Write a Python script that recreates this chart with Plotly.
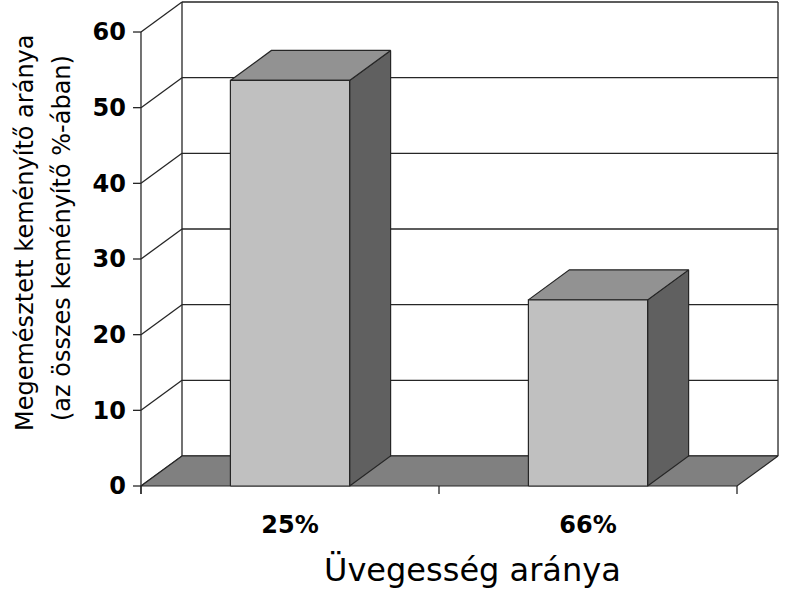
import plotly.graph_objects as go

# ---- data ----
categories = ["25%", "66%"]
values = [53.6, 24.6]
y_ticks = [0, 10, 20, 30, 40, 50, 60]
x_title = "Üvegesség aránya"
y_title_lines = ["Megemésztett keményítő aránya", "(az összes keményítő %-ában)"]

# ---- oblique 3D projection (axis units) ----
DEPTH_X = 0.1376      # horizontal shift of the back plane, in category units
DEPTH_Y = 3.965       # vertical shift of the back plane, in value units
BAR_W = 0.4           # bar width (gap width 150 %)
X_LO, X_HI = -0.5, len(categories) - 0.5
Y_MAX = y_ticks[-1]
TICK_X = 0.0268       # length of the y tick marks, in category units
TICK_Y = 1.06         # length of the x tick marks, in value units

EDGE = "#262626"
FLOOR = "#808080"
FRONT = "#c0c0c0"
TOP = "#929292"
SIDE = "#606060"

fig = go.Figure()


def lines(xs, ys, color=EDGE, width=1.3):
    fig.add_trace(go.Scatter(x=xs, y=ys, mode="lines",
                             line=dict(color=color, width=width),
                             hoverinfo="skip", showlegend=False))


def poly(pts, fill, width=1.2):
    xs = [p[0] for p in pts] + [pts[0][0]]
    ys = [p[1] for p in pts] + [pts[0][1]]
    fig.add_trace(go.Scatter(x=xs, y=ys, mode="lines", fill="toself",
                             fillcolor=fill, line=dict(color=EDGE, width=width),
                             hoverinfo="skip", showlegend=False))


# back-wall gridlines and left-wall diagonals
gx, gy = [], []
for t in y_ticks:
    gx += [X_LO + DEPTH_X, X_HI + DEPTH_X, None]
    gy += [t + DEPTH_Y, t + DEPTH_Y, None]
    gx += [X_LO, X_LO + DEPTH_X, None]
    gy += [t, t + DEPTH_Y, None]
# back-wall vertical edges
for xe in (X_LO + DEPTH_X, X_HI + DEPTH_X):
    gx += [xe, xe, None]
    gy += [DEPTH_Y, Y_MAX + DEPTH_Y, None]
lines(gx, gy)

# floor
poly([(X_LO, 0), (X_HI, 0), (X_HI + DEPTH_X, DEPTH_Y), (X_LO + DEPTH_X, DEPTH_Y)], FLOOR)

# bars: front, top and side faces
for i, v in enumerate(values):
    x0, x1 = i - BAR_W / 2, i + BAR_W / 2
    poly([(x1, 0), (x1 + DEPTH_X, DEPTH_Y), (x1 + DEPTH_X, v + DEPTH_Y), (x1, v)], SIDE)
    poly([(x0, v), (x1, v), (x1 + DEPTH_X, v + DEPTH_Y), (x0 + DEPTH_X, v + DEPTH_Y)], TOP)
    poly([(x0, 0), (x1, 0), (x1, v), (x0, v)], FRONT)

# front value axis with tick marks
ax, ay = [X_LO, X_LO, None], [-TICK_Y, Y_MAX, None]
for t in y_ticks:
    ax += [X_LO - TICK_X, X_LO, None]
    ay += [t, t, None]
# category boundary tick marks
for k in range(len(categories) + 1):
    ax += [X_LO + k, X_LO + k, None]
    ay += [0, -TICK_Y, None]
lines(ax, ay)

fig.update_layout(
    width=788, height=592,
    margin=dict(l=128, r=6, t=0, b=92),
    paper_bgcolor="white", plot_bgcolor="white",
    font=dict(family="DejaVu Sans", color="black"),
    xaxis=dict(range=[X_LO - 0.0436, X_HI + 0.151], showgrid=False, zeroline=False,
               showline=False, ticks="", tickvals=list(range(len(categories))),
               ticktext=categories, tickfont=dict(size=24, weight="bold"),
               ticklabelstandoff=8, fixedrange=True),
    yaxis=dict(range=[-1.85, 64.23], showgrid=False, zeroline=False, showline=False,
               ticks="", tickvals=y_ticks, tickfont=dict(size=24, weight="bold"),
               ticklabelstandoff=1, fixedrange=True),
    annotations=[
        dict(text=x_title, xref="paper", yref="paper", x=0.526, y=-0.14,
             xanchor="center", yanchor="middle", showarrow=False,
             font=dict(size=32)),
        dict(text=y_title_lines[0], xref="paper", yref="paper", x=-0.1575, y=0.536,
             xanchor="center", yanchor="middle", textangle=-90, showarrow=False,
             font=dict(size=24)),
        dict(text=y_title_lines[1], xref="paper", yref="paper", x=-0.1009, y=0.524,
             xanchor="center", yanchor="middle", textangle=-90, showarrow=False,
             font=dict(size=24)),
    ],
)

fig.write_html("out.html")
